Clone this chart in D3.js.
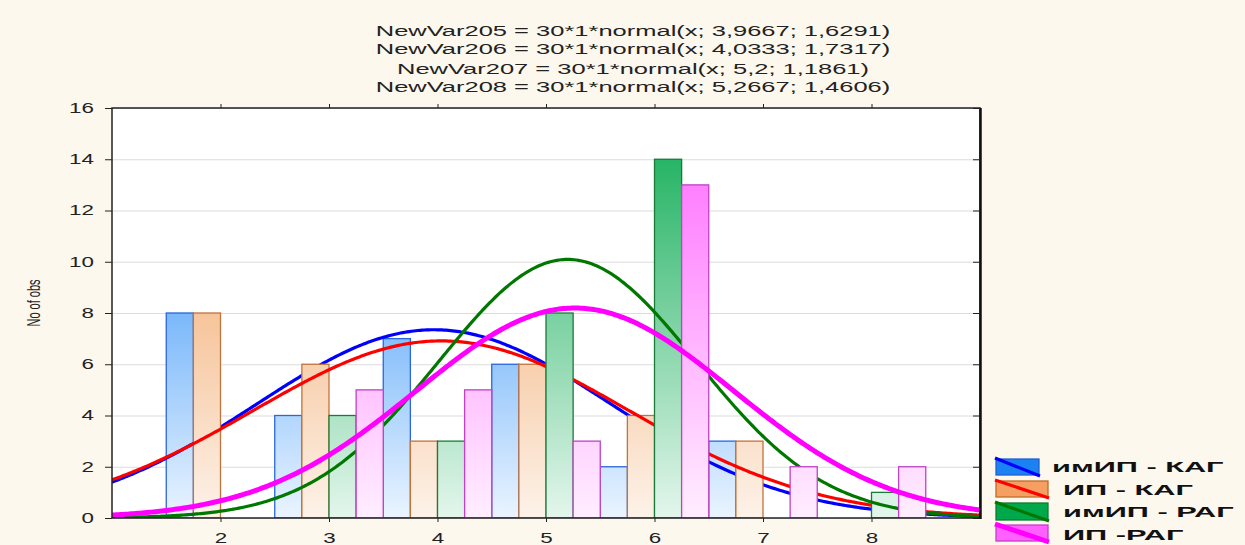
<!DOCTYPE html>
<html>
<head>
<meta charset="utf-8">
<script src="https://cdn.jsdelivr.net/npm/d3@7"></script>
<style>
  html, body { margin: 0; padding: 0; background: #fdf8ee; }
  svg { display: block; }
  text { font-family: "Liberation Sans", Arial, sans-serif; }
</style>
</head>
<body>
<svg id="chart" width="1245" height="545"></svg>
<script>
// categories (bin centres) and counts per group
const categories = [2, 3, 4, 5, 6, 7, 8];
const imipKag = [8, 4, 7, 6, 2, 3, 0];
const ipKag   = [8, 6, 3, 6, 4, 3, 0];
const imipRag = [0, 4, 3, 8, 14, 0, 1];
const ipRag   = [0, 5, 5, 3, 13, 2, 2];

// fitted normal parameters shown in the title
const fitNames = ['NewVar205', 'NewVar206', 'NewVar207', 'NewVar208'];
const fitMeans = [3.9667, 4.0333, 5.2, 5.2667];
const fitSds   = [1.6291, 1.7317, 1.1861, 1.4606];
const fitMeanText = ['3,9667', '4,0333', '5,2', '5,2667'];
const fitSdText   = ['1,6291', '1,7317', '1,1861', '1,4606'];
const fitN = 30;

const legendLabels = ['имИП - КАГ', 'ИП - КАГ', 'имИП - РАГ', 'ИП -РАГ'];
const yTicks = [0, 2, 4, 6, 8, 10, 12, 14, 16];
const xTicks = [2, 3, 4, 5, 6, 7, 8];

const groups = [
  { values: imipKag, top: '#0a7cf5', bottom: '#eaf4ff', stroke: '#2a66de', curve: '#0000ff', cw: 3.2, sw: '#1a82f2', sws: '#2060d0' },
  { values: ipKag,   top: '#ef974c', bottom: '#fdf2e9', stroke: '#c0733a', curve: '#ff0000', cw: 3.2, sw: '#f5a060', sws: '#c06a2a' },
  { values: imipRag, top: '#0dab53', bottom: '#e4f6ec', stroke: '#1a7a3a', curve: '#007800', cw: 3.2, sw: '#00a84c', sws: '#107a30' },
  { values: ipRag,   top: '#ff66ff', bottom: '#ffeeff', stroke: '#c040c8', curve: '#ff00ff', cw: 5, sw: '#ff60ff', sws: '#c040c8' }
];

const svg = d3.select('#chart');
const L = 112, R = 980, T = 108, B = 518;

const x = d3.scaleLinear().domain([1, 9]).range([L, R]);
const y = d3.scaleLinear().domain([0, 16]).range([B, T]);

const defs = svg.append('defs');
groups.forEach((g, i) => {
  const lg = defs.append('linearGradient')
    .attr('id', 'grad' + i)
    .attr('gradientUnits', 'userSpaceOnUse')
    .attr('x1', 0).attr('x2', 0)
    .attr('y1', y(16)).attr('y2', y(0));
  lg.append('stop').attr('offset', 0).attr('stop-color', g.top);
  lg.append('stop').attr('offset', 1).attr('stop-color', g.bottom);
});
defs.append('clipPath').attr('id', 'plotclip')
  .append('rect').attr('x', L).attr('y', T).attr('width', R - L).attr('height', B - T);

// plot background
svg.append('rect').attr('x', L).attr('y', T).attr('width', R - L).attr('height', B - T).attr('fill', '#fff');

// grid
svg.append('g')
  .attr('transform', `translate(${L},0)`)
  .call(d3.axisLeft(y).tickValues(yTicks).tickSize(-(R - L)).tickFormat(''))
  .call((g) => g.select('.domain').remove())
  .call((g) => g.selectAll('line').attr('stroke', '#dcdcdc').attr('stroke-width', 1.2));

// bars and curves, group by group (each curve sits above its own bars only)
const barW = 0.25;
const plot = svg.append('g').attr('clip-path', 'url(#plotclip)');
const line = d3.line().x((d) => x(d[0])).y((d) => y(d[1]));
const xs = d3.range(1, 9.001, 0.02);

groups.forEach((g, i) => {
  const data = categories.map((c, k) => ({ c, v: g.values[k] })).filter((d) => d.v > 0);
  plot.append('g')
    .selectAll('rect')
    .data(data)
    .join('rect')
    .attr('x', (d) => x(d.c - 0.5 + i * barW))
    .attr('width', (d) => x(d.c - 0.5 + (i + 1) * barW) - x(d.c - 0.5 + i * barW))
    .attr('y', (d) => y(d.v))
    .attr('height', (d) => y(0) - y(d.v))
    .attr('fill', `url(#grad${i})`)
    .attr('stroke', g.stroke)
    .attr('stroke-width', 1.3);

  const m = fitMeans[i], s = fitSds[i];
  const pts = xs.map((v) => [v, fitN * 1 * Math.exp(-0.5 * ((v - m) / s) ** 2) / (s * Math.sqrt(2 * Math.PI))]);
  plot.append('path')
    .attr('d', line(pts))
    .attr('fill', 'none')
    .attr('stroke', g.curve)
    .attr('stroke-width', g.cw)
    .attr('stroke-linejoin', 'round');
});

// frame
svg.append('rect').attr('x', L).attr('y', T).attr('width', R - L).attr('height', B - T)
  .attr('fill', 'none').attr('stroke', '#222').attr('stroke-width', 1.5);
svg.append('line').attr('x1', R + 0.5).attr('x2', R + 0.5).attr('y1', T).attr('y2', B + 1)
  .attr('stroke', '#111').attr('stroke-width', 2.5);

// axes
const sx = 1.6;
const yAxis = svg.append('g')
  .attr('transform', `translate(${L},0)`)
  .call(d3.axisLeft(y).tickValues(yTicks).tickSize(7).tickPadding(12));
yAxis.select('.domain').remove();
yAxis.selectAll('line').attr('stroke', '#222');
yAxis.selectAll('text')
  .attr('x', -18 / sx)
  .attr('transform', `scale(${sx},1)`)
  .attr('font-size', 14)
  .attr('fill', '#222');

const yRight = svg.append('g')
  .attr('transform', `translate(${R},0)`)
  .call(d3.axisRight(y).tickValues(yTicks).tickSize(-7).tickFormat(''));
yRight.select('.domain').remove();
yRight.selectAll('line').attr('stroke', '#222');

const xAxis = svg.append('g')
  .attr('transform', `translate(0,${B})`)
  .call(d3.axisBottom(x).tickValues(xTicks).tickSize(4).tickPadding(8));
xAxis.select('.domain').remove();
xAxis.selectAll('line').attr('stroke', '#222');
xAxis.selectAll('text')
  .attr('transform', `scale(${sx},1)`)
  .attr('font-size', 14)
  .attr('fill', '#222')
  .attr('dy', '0.9em');

const xTop = svg.append('g')
  .attr('transform', `translate(0,${T})`)
  .call(d3.axisTop(x).tickValues(xTicks).tickSize(4).tickFormat(''));
xTop.select('.domain').remove();
xTop.selectAll('line').attr('stroke', '#222');

// y label
svg.append('text')
  .attr('transform', `translate(40,303) scale(1.6,1) rotate(-90)`)
  .attr('text-anchor', 'middle')
  .attr('font-size', 11)
  .attr('fill', '#222')
  .text('No of obs');

// title
const titleY = [36, 54, 74, 92];
fitNames.forEach((n, i) => {
  svg.append('text')
    .attr('transform', `translate(633,${titleY[i]}) scale(1.7,1)`)
    .attr('text-anchor', 'middle')
    .attr('font-size', 15)
    .attr('fill', '#222')
    .text(`${n} = ${fitN}*1*normal(x; ${fitMeanText[i]}; ${fitSdText[i]})`);
});

// legend
const legRows = [
  { x: 996, y: 459, w: 43, h: 16, tx: 1052, ty: 472 },
  { x: 996, y: 481, w: 52, h: 16, tx: 1063, ty: 495 },
  { x: 996, y: 503, w: 52, h: 17, tx: 1063, ty: 517 },
  { x: 996, y: 525, w: 52, h: 16, tx: 1063, ty: 540 }
];
groups.forEach((g, i) => {
  const r = legRows[i];
  const lgG = svg.append('g');
  lgG.append('rect')
    .attr('x', r.x).attr('y', r.y).attr('width', r.w).attr('height', r.h)
    .attr('fill', g.sw).attr('stroke', g.sws).attr('stroke-width', 1.3);
  lgG.append('line')
    .attr('x1', r.x - 1).attr('y1', r.y - 1)
    .attr('x2', r.x + r.w + 1).attr('y2', r.y + r.h + 1)
    .attr('stroke', g.curve).attr('stroke-width', g.cw);
  lgG.append('text')
    .attr('transform', `translate(${r.tx},${r.ty}) scale(2.05,1)`)
    .attr('font-size', 15)
    .attr('font-weight', 'bold')
    .attr('fill', '#111')
    .text(legendLabels[i]);
});
</script>
</body>
</html>
